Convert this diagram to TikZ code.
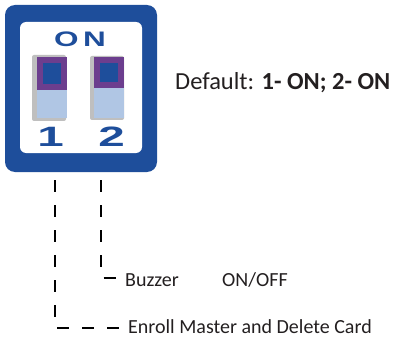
\documentclass[tikz,border=0pt]{standalone}
\usepackage{fontspec}
\setmainfont{Carlito}
\newfontfamily\dipfont{Liberation Sans}
\usepackage{xcolor}
\usetikzlibrary{positioning}
\definecolor{dipblue}{RGB}{30,78,155}
\definecolor{dippurple}{RGB}{108,62,142}
\definecolor{diplight}{RGB}{176,198,228}
\definecolor{txtgray}{RGB}{35,31,32}
\tikzset{
    x=1pt, y=-1pt,
    knob/.style ={rectangle, draw=dippurple, line width=6pt, fill=dipblue,
                  inner sep=0pt, minimum width=24pt, minimum height=27pt},
    slide/.style ={rectangle, fill=diplight, inner sep=0pt, outer sep=0pt,
                  minimum width=30pt, minimum height=28pt},
    shadow/.style ={fill=black!25, rounded corners=2pt},
    digit/.style ={text=dipblue, inner sep=0pt, xscale=1.7,
                  font=\dipfont\bfseries\fontsize{28}{30}\selectfont},
    lbl/.style = {inner sep=0pt, anchor=base west, text=txtgray,
                  font=\fontsize{20}{24}\selectfont},
    wire/.style = {line width=2pt, dash pattern=on 12pt off 13pt}
    }

\begin{document}
\begin{tikzpicture}
    \useasboundingbox (0,0) rectangle (394,337);
    % switch housing
    \fill[dipblue, rounded corners=10pt] (5,5) rectangle (157,172);
    \fill[white, rounded corners=6pt] (20,22) rectangle (142,153);
    \fill[shadow] (32,55) rectangle (66,121);
    \fill[shadow] (90,56) rectangle (124,120);

    \node (on) at (80,39.5) [digit, xscale=1.5/1.7,
          font=\dipfont\bfseries\fontsize{21}{24}\selectfont] {O\kern3pt N};

    \node (k1) at (52,73.5) [knob] {};
    \node (s1) [slide, below=0pt of k1] {};
    \node (k2) at (109,72.5) [knob, minimum height=25pt] {};
    \node (s2) [slide, below=0pt of k2, minimum height=30pt] {};

    \node (n1) at (50.5,137) [digit] {1};
    \node (n2) at (111.5,137) [digit] {2};

    \node (dflt) at (175,90) [lbl, font=\fontsize{24.5}{28}\selectfont]
          {Default: \textbf{1- ON; 2- ON}};

    \node (buz)   at (125,286.5) [lbl] {Buzzer};
    \node (onoff) at (222,286.5) [lbl] {ON/OFF};
    \node (enr)   at (128,333)   [lbl] {Enroll Master and Delete Card};

    \coordinate (c1) at (55,180);
    \coordinate (c2) at (101,180);
    \draw[wire] (c1) |- ([xshift=-9pt, yshift=5.3pt]enr.base west);
    \draw[wire] (c2) |- ([xshift=-9pt, yshift=9pt]buz.base west);
\end{tikzpicture}
\end{document}
